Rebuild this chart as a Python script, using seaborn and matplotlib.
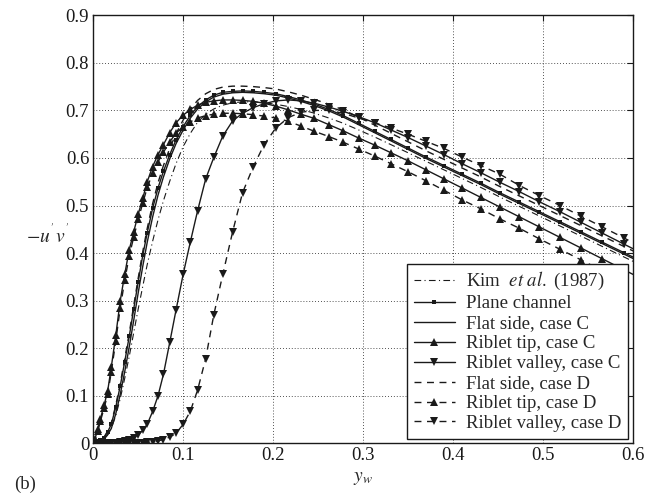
import numpy as np
import pandas as pd
import matplotlib
matplotlib.use("Agg")
import matplotlib.pyplot as plt
import seaborn as sns

# wall distance grid (same points for every curve)
y_w = [0, 0.002, 0.005, 0.008, 0.012, 0.016, 0.02, 0.025, 0.03, 0.035,
       0.04, 0.045, 0.05, 0.055, 0.06, 0.066, 0.072, 0.078, 0.085, 0.092,
       0.1, 0.108, 0.116, 0.125, 0.134, 0.144, 0.155, 0.166, 0.178, 0.19,
       0.203, 0.217, 0.231, 0.246, 0.262, 0.278, 0.295, 0.313, 0.331, 0.35,
       0.37, 0.39, 0.41, 0.431, 0.452, 0.474, 0.496, 0.519, 0.542, 0.566,
       0.59, 0.614]

kim_1987 = [0, 0, 0.001, 0.004, 0.009, 0.018, 0.031, 0.058, 0.094, 0.137,
            0.183, 0.233, 0.283, 0.330, 0.376, 0.425, 0.470, 0.510, 0.551, 0.588,
            0.624, 0.652, 0.675, 0.692, 0.703, 0.711, 0.716, 0.718, 0.718, 0.716,
            0.713, 0.708, 0.702, 0.694, 0.684, 0.673, 0.659, 0.644, 0.628, 0.611,
            0.593, 0.575, 0.557, 0.538, 0.518, 0.498, 0.478, 0.457, 0.436, 0.414,
            0.392, 0.370]

plane_channel = [0, 0, 0.002, 0.006, 0.012, 0.024, 0.040, 0.076, 0.121, 0.172,
                 0.225, 0.283, 0.340, 0.395, 0.443, 0.494, 0.537, 0.572, 0.607, 0.638,
                 0.666, 0.690, 0.708, 0.722, 0.732, 0.738, 0.740, 0.741, 0.740, 0.738,
                 0.735, 0.729, 0.722, 0.713, 0.702, 0.689, 0.673, 0.656, 0.639, 0.621,
                 0.602, 0.584, 0.566, 0.547, 0.527, 0.507, 0.487, 0.466, 0.445, 0.423,
                 0.401, 0.379]

flat_c = [0, 0, 0.001, 0.004, 0.009, 0.018, 0.031, 0.062, 0.103, 0.151,
          0.203, 0.259, 0.317, 0.372, 0.423, 0.476, 0.522, 0.560, 0.598, 0.630,
          0.659, 0.684, 0.703, 0.718, 0.728, 0.734, 0.737, 0.738, 0.737, 0.735,
          0.732, 0.726, 0.719, 0.710, 0.699, 0.686, 0.670, 0.653, 0.636, 0.618,
          0.599, 0.581, 0.563, 0.544, 0.524, 0.504, 0.484, 0.463, 0.442, 0.420,
          0.398, 0.376]

tip_c = [0, 0.010, 0.030, 0.052, 0.080, 0.110, 0.160, 0.227, 0.300, 0.356,
         0.407, 0.445, 0.482, 0.515, 0.550, 0.582, 0.607, 0.628, 0.653, 0.674,
         0.690, 0.702, 0.711, 0.717, 0.720, 0.722, 0.722, 0.721, 0.719, 0.715,
         0.709, 0.701, 0.692, 0.683, 0.670, 0.657, 0.642, 0.627, 0.611, 0.594,
         0.575, 0.556, 0.537, 0.517, 0.497, 0.476, 0.455, 0.433, 0.411, 0.388,
         0.365, 0.342]

valley_c = [0, 0, 0, 0, 0, 0, 0, 0.001, 0.002, 0.004,
            0.008, 0.012, 0.018, 0.027, 0.040, 0.067, 0.100, 0.145, 0.212, 0.280,
            0.356, 0.424, 0.489, 0.556, 0.601, 0.646, 0.678, 0.694, 0.706, 0.714,
            0.720, 0.722, 0.720, 0.715, 0.707, 0.698, 0.687, 0.674, 0.659, 0.643,
            0.625, 0.607, 0.588, 0.569, 0.549, 0.529, 0.508, 0.487, 0.465, 0.442,
            0.419, 0.396]

flat_d = [0, 0, 0.002, 0.006, 0.013, 0.026, 0.043, 0.080, 0.126, 0.178,
          0.232, 0.290, 0.348, 0.403, 0.452, 0.504, 0.548, 0.584, 0.620, 0.651,
          0.680, 0.703, 0.721, 0.735, 0.744, 0.749, 0.751, 0.751, 0.750, 0.748,
          0.745, 0.739, 0.732, 0.723, 0.713, 0.701, 0.686, 0.669, 0.652, 0.634,
          0.615, 0.597, 0.579, 0.560, 0.540, 0.520, 0.500, 0.479, 0.458, 0.436,
          0.414, 0.392]

tip_d = [0, 0.008, 0.026, 0.047, 0.074, 0.103, 0.150, 0.215, 0.285, 0.343,
         0.394, 0.434, 0.471, 0.505, 0.538, 0.568, 0.592, 0.612, 0.634, 0.652,
         0.666, 0.676, 0.684, 0.689, 0.692, 0.694, 0.694, 0.693, 0.691, 0.688,
         0.684, 0.677, 0.667, 0.656, 0.645, 0.633, 0.619, 0.604, 0.588, 0.571,
         0.552, 0.532, 0.512, 0.493, 0.472, 0.452, 0.430, 0.408, 0.386, 0.363,
         0.340, 0.317]

valley_d = [0, 0, 0, 0, 0, 0, 0, 0, 0, 0,
            0, 0, 0.001, 0.001, 0.002, 0.003, 0.005, 0.008, 0.013, 0.021,
            0.040, 0.068, 0.112, 0.178, 0.270, 0.355, 0.445, 0.527, 0.582, 0.628,
            0.663, 0.685, 0.696, 0.700, 0.700, 0.694, 0.684, 0.674, 0.663, 0.650,
            0.635, 0.620, 0.602, 0.584, 0.566, 0.542, 0.521, 0.500, 0.478, 0.455,
            0.432, 0.408]

series = [
    (r"Kim  $\it{et\ al.}$ (1987)", kim_1987, "", (0, (6, 3, 1, 3)), 0.8),
    ("Plane channel", plane_channel, "s", "-", 1.0),
    ("Flat side, case C", flat_c, "", "-", 1.0),
    ("Riblet tip, case C", tip_c, "^", "-", 1.0),
    ("Riblet valley, case C", valley_c, "v", "-", 1.0),
    ("Flat side, case D", flat_d, "", (0, (5, 4)), 1.0),
    ("Riblet tip, case D", tip_d, "^", (0, (5, 4)), 1.0),
    ("Riblet valley, case D", valley_d, "v", (0, (5, 4)), 1.0),
]

sns.set_theme(style="white")
plt.rcParams["font.family"] = ["Liberation Serif", "DejaVu Serif"]
plt.rcParams["mathtext.fontset"] = "stix"

fig = plt.figure(figsize=(6.64, 4.93), dpi=100)
ax = fig.add_axes([0.1405, 0.1008, 0.8125, 0.8682])

for label, vals, mk, ls, lw in series:
    df = pd.DataFrame({"y_w": y_w, "uv": vals})
    ms = 3.5 if mk == "s" else 6
    sns.lineplot(data=df, x="y_w", y="uv", ax=ax, color="k", linestyle=ls,
                 linewidth=lw, marker=mk if mk else None, markersize=ms,
                 markeredgewidth=0, markerfacecolor="k", sort=False,
                 estimator=None, label=label)

ax.set_xlim(0, 0.6)
ax.set_ylim(0, 0.9)
ax.set_xticks([0, 0.1, 0.2, 0.3, 0.4, 0.5, 0.6])
ax.set_xticklabels(["0", "0.1", "0.2", "0.3", "0.4", "0.5", "0.6"])
ax.set_yticks([0, 0.1, 0.2, 0.3, 0.4, 0.5, 0.6, 0.7, 0.8, 0.9])
ax.set_yticklabels(["0", "0.1", "0.2", "0.3", "0.4", "0.5", "0.6", "0.7", "0.8", "0.9"])
ax.tick_params(direction="in", top=True, right=True, length=4, width=0.8,
               labelsize=13.5, colors="k", pad=3)
ax.grid(True, linestyle=(0, (1, 2.5)), color="k", linewidth=0.6)
for sp in ax.spines.values():
    sp.set_color("k")
    sp.set_linewidth(1.0)

ax.set_xlabel("$y_w$", fontsize=14, labelpad=4)
ax.set_ylabel("$-u^{'}v^{'}$", fontsize=14, rotation=0, labelpad=12)
ax.yaxis.set_label_coords(-0.085, 0.46)
fig.text(0.022, 0.008, "(b)", fontsize=13.5)

leg = ax.legend(loc="lower right", fontsize=13.5, frameon=True, fancybox=False,
                framealpha=1, edgecolor="k", borderaxespad=0.25,
                handlelength=2.2, labelspacing=0.15, borderpad=0.35,
                handletextpad=0.6)
leg.get_frame().set_linewidth(1.0)

fig.savefig("out.png", dpi=100)
